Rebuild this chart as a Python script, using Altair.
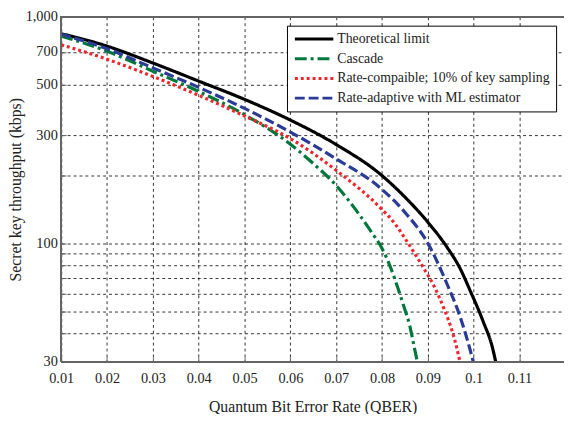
import altair as alt
import pandas as pd

series_names = [
    "Theoretical limit",
    "Cascade",
    "Rate-compaible; 10% of key sampling",
    "Rate-adaptive with ML estimator",
]

theory_q = [0.01, 0.02, 0.03, 0.04, 0.05, 0.06, 0.07, 0.08, 0.085, 0.09, 0.0942, 0.0971, 0.0992, 0.1021, 0.1041, 0.1048]
theory_v = [842, 742, 625, 520, 432, 350, 273, 199, 160, 124, 96, 77, 62, 45, 34.6, 30]

cascade_q = [0.01, 0.02, 0.03, 0.04, 0.05, 0.06, 0.065, 0.07, 0.074, 0.0777, 0.08, 0.082, 0.0834, 0.0849, 0.086, 0.087, 0.0877]
cascade_v = [822, 705, 575, 468, 370, 274, 225, 180, 143, 112, 95, 77, 64, 51.6, 43.7, 35, 30]

ratecomp_q = [0.01, 0.02, 0.03, 0.04, 0.05, 0.06, 0.07, 0.08, 0.0827, 0.0849, 0.087, 0.0892, 0.0913, 0.0935, 0.0953, 0.0963, 0.097]
ratecomp_v = [752, 650, 545, 450, 365, 290, 210, 141, 123, 106, 91, 77, 65, 51.6, 41, 34.6, 30]

adaptive_q = [0.01, 0.02, 0.03, 0.04, 0.05, 0.06, 0.07, 0.08, 0.085, 0.09, 0.0942, 0.0971, 0.0992, 0.0999]
adaptive_v = [838, 722, 595, 488, 394, 310, 236, 173, 137, 100, 66, 47, 34, 30]

x_ticks = [0.01, 0.02, 0.03, 0.04, 0.05, 0.06, 0.07, 0.08, 0.09, 0.1, 0.11]
y_grid = [30, 40, 50, 60, 70, 80, 90, 100, 200, 300, 500, 700, 1000]
y_labels = [30, 100, 300, 500, 700, 1000]

colors = ["#000000", "#00783c", "#f0262b", "#2a3b96"]
dashes = [[1, 0], [12, 4, 3, 4], [3, 3], [10, 4]]

rows = []
for name, qs, vs in zip(series_names,
                        [theory_q, cascade_q, ratecomp_q, adaptive_q],
                        [theory_v, cascade_v, ratecomp_v, adaptive_v]):
    for q, v in zip(qs, vs):
        rows.append({"series": name, "qber": q, "rate": v})
df = pd.DataFrame(rows)

FONT = "Liberation Serif"
FRAME = "#666"

legend = alt.Legend(
    title=None, orient="none", legendX=229, legendY=9,
    symbolType="M-3.25,0L3.25,0", symbolSize=144, symbolStrokeWidth=3,
    symbolOffset=14, labelOffset=16,
    labelFont=FONT, labelFontSize=14, labelColor="#222", labelLimit=0,
    fillColor="white", strokeColor="#000", padding=6, rowPadding=5,
    cornerRadius=0,
)

label_expr = "indexof([" + ",".join(str(v) for v in y_labels) + "], datum.value) >= 0 ? format(datum.value, ',') : ''"

x_enc = alt.X(
    "qber:Q",
    scale=alt.Scale(domain=[0.01, 0.1197], nice=False, zero=False),
    axis=alt.Axis(values=x_ticks, format=".2~f", title="Quantum Bit Error Rate (QBER)",
                  grid=True, gridDash=[3, 3], gridColor="#000", gridOpacity=0.8,
                  ticks=True, tickSize=5, tickColor=FRAME, offset=-5,
                  labelPadding=10, titlePadding=14, labelFlush=False,
                  domain=False),
)
y_enc = alt.Y(
    "rate:Q",
    scale=alt.Scale(type="log", domain=[30, 1000], nice=False),
    axis=alt.Axis(values=y_grid, labelExpr=label_expr, title="Secret key throughput (kbps)",
                  grid=True, gridDash=[3, 3], gridColor="#000", gridOpacity=0.8,
                  ticks=True, tickSize=5, tickColor=FRAME, offset=-5,
                  labelPadding=4, titlePadding=2, labelFlush=False,
                  domain=False),
)

lines = alt.Chart(df).mark_line(strokeWidth=3.2, interpolate="monotone", clip=True).encode(
    x=x_enc,
    y=y_enc,
    color=alt.Color("series:N", scale=alt.Scale(domain=series_names, range=colors), legend=legend),
    strokeDash=alt.StrokeDash("series:N", scale=alt.Scale(domain=series_names, range=dashes), legend=legend),
)

top_rule = alt.Chart().mark_rule(color=FRAME, strokeWidth=1).encode(y=alt.datum(1000))
bottom_rule = alt.Chart().mark_rule(color=FRAME, strokeWidth=1).encode(y=alt.datum(30))
left_rule = alt.Chart().mark_rule(color=FRAME, strokeWidth=1).encode(x=alt.datum(0.01))

chart = alt.layer(lines, top_rule, bottom_rule, left_rule, data=df).properties(
    width=510, height=350,
    autosize=alt.AutoSizeParams(type="none"),
    padding={"left": 54, "top": 6, "right": 0, "bottom": 50},
).configure_view(strokeWidth=0).configure_axis(
    labelFont=FONT, titleFont=FONT, labelFontSize=14.5, titleFontSize=16,
    labelColor="#222", titleColor="#222", titleFontWeight="normal",
)

chart.save("out.html", embed_options={"renderer": "svg", "actions": False})
